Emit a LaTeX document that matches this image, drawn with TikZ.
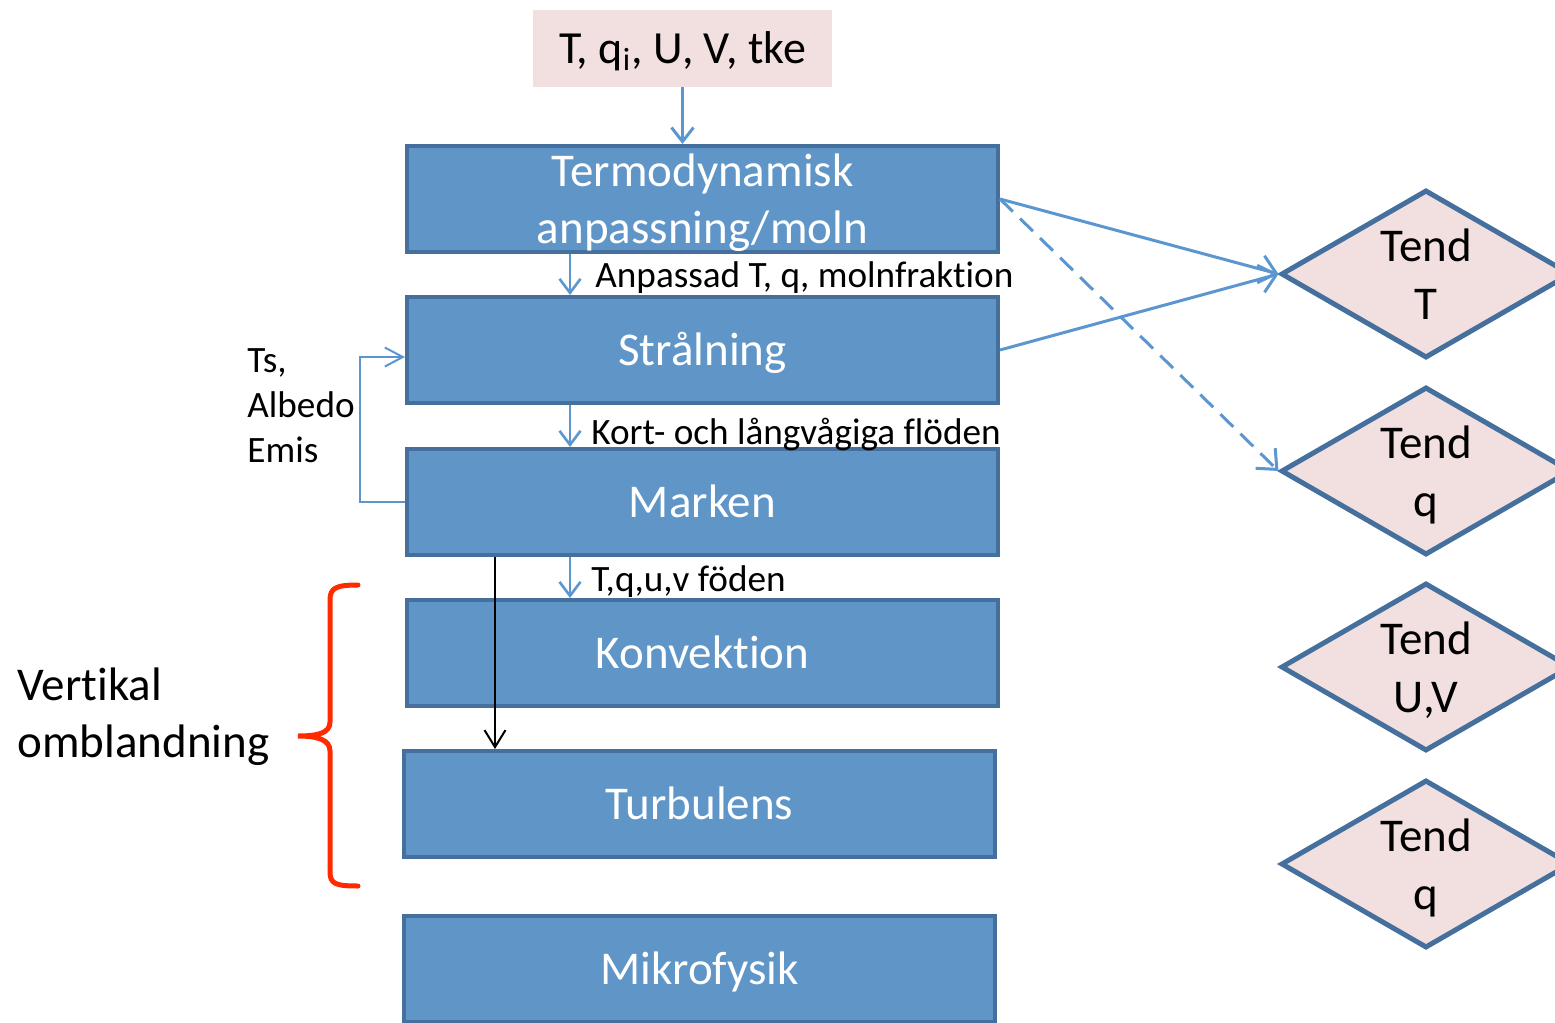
\documentclass[tikz,border=0pt]{standalone}
\usepackage{fontspec}
\setmainfont{Carlito}[Ligatures=NoCommon]
\usetikzlibrary{arrows.meta,shapes.geometric,calc}

\definecolor{boxfill}{HTML}{5F95C7}
\definecolor{boxline}{HTML}{45709E}
\definecolor{pinkfill}{HTML}{F2DFDF}
\definecolor{flowblue}{HTML}{5B96D0}
\definecolor{bracered}{HTML}{FF2A00}

% a line set with no depth below its baseline
\newcommand{\nodepth}[1]{\raisebox{0pt}[\height][0pt]{#1}}

\begin{document}
\begin{tikzpicture}[x=0.5pt,y=-0.5pt,
  bigfont/.style={font=\fontsize{23.5}{28.5}\selectfont},
  smallfont/.style={font=\fontsize{18.6}{22.5}\selectfont},
  procbox/.style={draw=boxline, line width=2pt, fill=boxfill,
    minimum width=295.5pt, minimum height=53pt, inner sep=0pt,
    text=white, align=center, bigfont},
  oneline/.style={text height=18.8pt, text depth=3.7pt},
  tendbox/.style={diamond, draw=boxline, line width=2.5pt, fill=pinkfill,
    minimum width=145pt, minimum height=84pt, aspect=1.726, inner sep=0pt,
    align=center, font=\fontsize{23.5}{29}\selectfont},
  flow/.style={draw=flowblue, line width=1.3pt,
    -{Straight Barb[length=7pt,width=10.5pt]}},
  tendflow/.style={draw=flowblue, line width=1.5pt,
    -{Straight Barb[length=8pt,width=14pt]}},
  label/.style={anchor=base west, inner sep=0pt, smallfont}
]
\clip (0,0) rectangle (1555,1023);

% input variables
\node[fill=pinkfill, minimum width=149.5pt, minimum height=38.5pt, inner sep=0pt,
      font=\fontsize{23}{28}\selectfont, text height=18.4pt, text depth=3.6pt]
      (inp) at (682.5,48.5) {T, q\textsubscript{i}, U, V, tke};

% process chain
\node[procbox] (termo) at (702.5,199) {\rule{0pt}{20.5pt}Termodynamisk\\anpassning/moln};
\node[procbox, oneline] (stral) at (702.5,350) {Strålning};
\node[procbox, oneline] (mark)  at (702.5,502) {Marken};
\node[procbox, oneline] (konv)  at (702.5,653) {Konvektion};
\node[procbox, oneline] (turb)  at (699.5,804) {Turbulens};
\node[procbox, oneline] (mikro) at (699.5,969) {Mikrofysik};

% tendencies
\node[tendbox] (tT)  at (1426,274) {Tend\\T};
\node[tendbox] (tq)  at (1426,471) {Tend\\\nodepth{q}};
\node[tendbox] (tUV) at (1426,667) {Tend\\\nodepth{U,V}};
\node[tendbox] (tq2) at (1426,864) {Tend\\\nodepth{q}};

% columns for the vertical connectors
\coordinate (colA) at (570,0);
\coordinate (colB) at (495,0);
\coordinate (fbx) at (360,0);
\coordinate (fbin) at ([yshift=-3.5pt]stral.west);

\draw[flow, line width=1.5pt, -{Straight Barb[length=7pt,width=11pt]}]
  (inp.south) -- (inp.south |- termo.north);
\draw[flow] (termo.south -| colA) -- (stral.north -| colA);
\draw[flow] (stral.south -| colA) -- (mark.north -| colA);
\draw[flow] (mark.south -| colA) -- (konv.north -| colA);

\node[label] (l1) at (595,287) {Anpassad T, q, molnfraktion};
\node[label] (l2) at (591,444) {Kort- och långvågiga flöden};
\node[label] (l3) at (591,591) {T,q,u,v föden};

% surface feedback to radiation
\draw[draw=flowblue, line width=1pt, -{Straight Barb[length=9pt,width=9.5pt]}]
  (mark.west) -| (fbx |- fbin) -- (fbin);
\node[anchor=west, inner sep=0pt, align=left, smallfont] (surf) at (247,405.5)
  {Ts,\\Albedo\\Emis};

% surface fluxes straight to turbulence
\draw[black, line width=1pt, -{Straight Barb[length=8.5pt,width=10.5pt]}]
  (mark.south -| colB) -- (turb.north -| colB);

% tendency outputs
\draw[tendflow] (termo.east) -- (tT.west);
\draw[tendflow] (stral.east) -- (tT.west);
\draw[tendflow, dash pattern=on 9pt off 5pt] (termo.east) -- (tq.west);

% vertical mixing brace
\draw[bracered, line width=2.5pt, line cap=round]
  (358,585) .. controls (336,585) and (330,588) .. (330,600) -- (330,722)
  .. controls (330,733) and (318,736) .. (298,736)
  .. controls (318,736) and (330,740) .. (330,751) -- (330,872)
  .. controls (330,884) and (336,886) .. (358,886);
\node[anchor=west, inner sep=0pt, align=left, bigfont] (mix) at (17,717)
  {Vertikal\\omblandning};
\end{tikzpicture}
\end{document}
